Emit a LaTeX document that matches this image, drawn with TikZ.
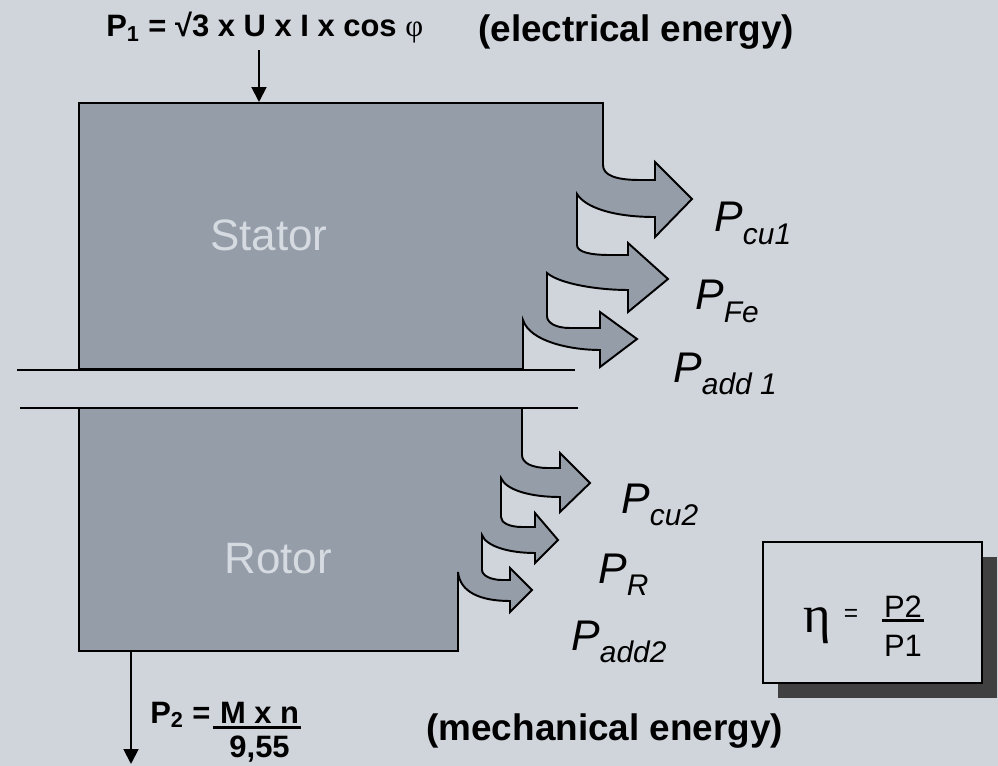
\documentclass[tikz,border=0pt]{standalone}
\usepackage{fontspec}
\setmainfont{Liberation Sans}
\newfontfamily\greekserif{Liberation Serif}
\usepackage{tikz}
\usetikzlibrary{arrows.meta,positioning,shadows}
\definecolor{bgGray}{RGB}{208,212,219}
\definecolor{coreGray}{RGB}{149,157,169}
\definecolor{coreText}{RGB}{214,218,225}
\definecolor{shadowGray}{RGB}{64,64,64}
\tikzset{
  machinepart/.style={
    draw=black,
    line width=1.1pt,
    fill=coreGray,
    line join=miter
  },
  partname/.style={
    font=\fontsize{25}{25}\selectfont,
    text=coreText,
    inner sep=0pt,
    anchor=base west
  },
  losslabel/.style={
    font=\fontsize{24.4}{24.4}\selectfont\itshape,
    inner sep=0pt,
    anchor=base west
  },
  energytext/.style={
    font=\fontsize{21}{21}\selectfont\bfseries,
    inner sep=0pt,
    anchor=base west
  },
  formulatext/.style={
    font=\fontsize{17.6}{17.6}\selectfont\bfseries,
    inner sep=0pt,
    anchor=base west
  },
  effbox/.style={
    rectangle,
    draw=black,
    line width=1.1pt,
    fill=bgGray,
    minimum width=43.8mm,
    minimum height=28.2mm,
    drop shadow={shadow xshift=3mm, shadow yshift=-3mm, fill=shadowGray, opacity=1}
  },
  effnum/.style={
    font=\fontsize{17.6}{17.6}\selectfont,
    inner sep=0pt
  },
  fracbar/.style={line width=1.5pt},
  shaftline/.style={line width=1.4pt},
  powerline/.style={-{Triangle[length=8.5pt,width=8.5pt]},line width=1.1pt}
}
\newcommand{\losssub}[1]{\raisebox{-0.28em}{\fontsize{17}{17}\selectfont #1}}

\begin{document}
\begin{tikzpicture}[x=0.2mm, y=-0.2mm]
  \useasboundingbox (0,0) rectangle (998,766);
  \fill[bgGray] (0,0) rectangle (998,766);

  % stator with its three loss arrows
  \draw[machinepart] (79,103) -- (603,103) -- (603,165)
    .. controls (603,175) and (615,180) .. (640,180) -- (655,180) -- (655,162)
    -- (692,199) -- (655,237) -- (655,217)
    .. controls (612,217) and (585,207) .. (577,194) -- (577,245)
    .. controls (577,252) and (590,255) .. (610,255) -- (628,255) -- (628,243)
    -- (668,279) -- (628,312) -- (628,290)
    .. controls (598,290) and (560,284) .. (547,273) -- (547,316)
    .. controls (547,323) and (556,328) .. (570,328) -- (600,328) -- (600,312)
    -- (637,339) -- (600,367) -- (600,350)
    .. controls (572,350) and (530,342) .. (523,320) -- (523,369)
    -- (79,369) -- cycle;

  % rotor with its three loss arrows
  \draw[machinepart] (79,408) -- (522,408) -- (522,455)
    .. controls (522,463) and (532,468) .. (548,468) -- (560,468) -- (560,453)
    -- (590,483) -- (560,512) -- (560,497)
    .. controls (530,497) and (506,490) .. (501,478) -- (501,517)
    .. controls (501,523) and (510,527) .. (522,527) -- (535,527) -- (535,513)
    -- (558,540) -- (535,563) -- (535,553)
    .. controls (508,553) and (486,546) .. (482,535) -- (482,570)
    .. controls (482,576) and (492,580) .. (502,580) -- (510,580) -- (510,568)
    -- (532,590) -- (510,612) -- (510,601)
    .. controls (480,601) and (460,592) .. (458,572) -- (458,651)
    -- (79,651) -- cycle;

  % air gap
  \draw[shaftline] (17,370) -- (575,370);
  \draw[shaftline] (20,408) -- (578,408);

  \node[partname] (statorname) at (210,250) {Stator};
  \node[partname] (rotorname) at (224,573) {Rotor};

  % input side
  \node[formulatext] (p1) at (106,37) {P\textsubscript{1} = √3 x U x I x cos {\greekserif\mdseries φ}};
  \node[energytext] (elec) at (478,42) {(electrical energy)};
  \coordinate (p1in) at (259,50);
  \coordinate (statorin) at (259,102);
  \draw[powerline] (p1in) -- (statorin);

  % losses
  \node[losslabel] (pcu1) at (714,232) {P\losssub{cu1}};
  \node[losslabel] (pfe) at (695,310) {P\losssub{Fe}};
  \node[losslabel] (padd1) at (673,382) {P\losssub{add 1}};
  \node[losslabel] (pcu2) at (621,513) {P\losssub{cu2}};
  \node[losslabel] (pr) at (598,583) {P\losssub{R}};
  \node[losslabel] (padd2) at (571,650) {P\losssub{add2}};

  % output side
  \coordinate (rotorout) at (131,652);
  \coordinate (p2out) at (131,764);
  \draw[powerline] (rotorout) -- (p2out);
  \node[formulatext] (p2) at (150,723) {P\textsubscript{2} =};
  \node[formulatext, base right=5pt of p2] (p2num) {M x n};
  \node[formulatext, anchor=north, below=7pt of p2num] (p2den) {9,55};
  \draw[fracbar] ([xshift=-4pt,yshift=-2.5pt]p2num.base west) -- ([xshift=1pt,yshift=-2.5pt]p2num.base east);
  \node[energytext] (mech) at (426,740) {(mechanical energy)};

  % efficiency
  \node[effbox] (etabox) at (872.5,612.5) {};
  \node[font=\greekserif\fontsize{30}{30}\selectfont, inner sep=0pt, anchor=base] (eta) at (817,632) {η};
  \node[font=\fontsize{14}{14}\selectfont, inner sep=0pt] (etaeq) at (851,615) {=};
  \node[effnum, anchor=base] (etanum) at (903,617) {P2};
  \node[effnum, anchor=north, below=10pt of etanum] (etaden) {P1};
  \draw[fracbar] ([xshift=-1pt,yshift=-2pt]etanum.base west) -- ([xshift=1pt,yshift=-2pt]etanum.base east);
\end{tikzpicture}
\end{document}
